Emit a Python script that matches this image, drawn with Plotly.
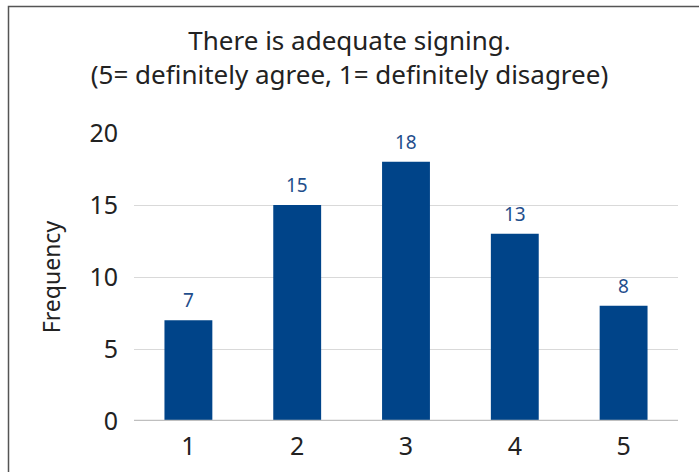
import plotly.graph_objects as go

# Survey responses: rating scale 1-5 and how many respondents chose each
ratings = ["1", "2", "3", "4", "5"]
counts = [7, 15, 18, 13, 8]
y_ticks = [0, 5, 10, 15, 20]

BAR_BLUE = "#004489"
LABEL_BLUE = "#1F4E8C"
TEXT = "#222222"
FONT = "Noto Sans"

W, H = 699, 472
L, R, T, B = 134, 21, 133, 51
plot_w = W - L - R
plot_h = H - T - B

fig = go.Figure(
    go.Bar(
        x=ratings,
        y=counts,
        marker=dict(color=BAR_BLUE, line=dict(width=0)),
        hoverinfo="x+y",
    )
)

# value labels above each bar (category axis positions are indices)
for i, c in enumerate(counts):
    fig.add_annotation(
        x=i, y=c, xref="x", yref="y",
        text=str(c), showarrow=False,
        yanchor="bottom", yshift=5,
        font=dict(family=FONT, size=19, color=LABEL_BLUE),
    )

def px_x(px):
    return (px - L) / plot_w

def px_y(py):
    return (H - B - py) / plot_h

# outer frame around the chart (left and top edges visible)
fig.add_shape(
    type="rect", xref="paper", yref="paper",
    x0=px_x(8.5), x1=px_x(720), y0=px_y(6.5), y1=px_y(500),
    line=dict(color="#555555", width=1.5), fillcolor="rgba(0,0,0,0)",
    layer="below",
)

# category axis baseline
fig.add_shape(
    type="line", xref="paper", yref="y",
    x0=0, x1=1, y0=0, y1=0,
    line=dict(color="#BFBFBF", width=2.5),
    layer="above",
)

fig.update_layout(
    width=W, height=H,
    margin=dict(l=L, r=R, t=T, b=B),
    paper_bgcolor="white", plot_bgcolor="white",
    showlegend=False,
    bargap=0.56,
    title=dict(
        text="There is adequate signing.<br>(5= definitely agree, 1= definitely disagree)",
        x=0.5, xref="container", xanchor="center",
        y=1 - 50 / H, yanchor="middle",
        font=dict(family=FONT, size=26, color=TEXT),
    ),
    xaxis=dict(
        type="category", automargin=False,
        showgrid=False, showline=False, zeroline=False,
        ticks="outside", ticklen=3, tickcolor="rgba(0,0,0,0)",
        tickfont=dict(family=FONT, size=25, color=TEXT),
    ),
    yaxis=dict(
        range=[0, 20], tickvals=y_ticks, automargin=False,
        showgrid=True, gridcolor="#D9D9D9", gridwidth=1.3,
        zeroline=False, showline=False,
        ticks="outside", ticklen=10, tickcolor="rgba(0,0,0,0)",
        tickfont=dict(family=FONT, size=25, color=TEXT),
        title=dict(text="Frequency", font=dict(family=FONT, size=23, color=TEXT), standoff=22),
    ),
)

fig.write_html("out.html", config={"displayModeBar": False})
